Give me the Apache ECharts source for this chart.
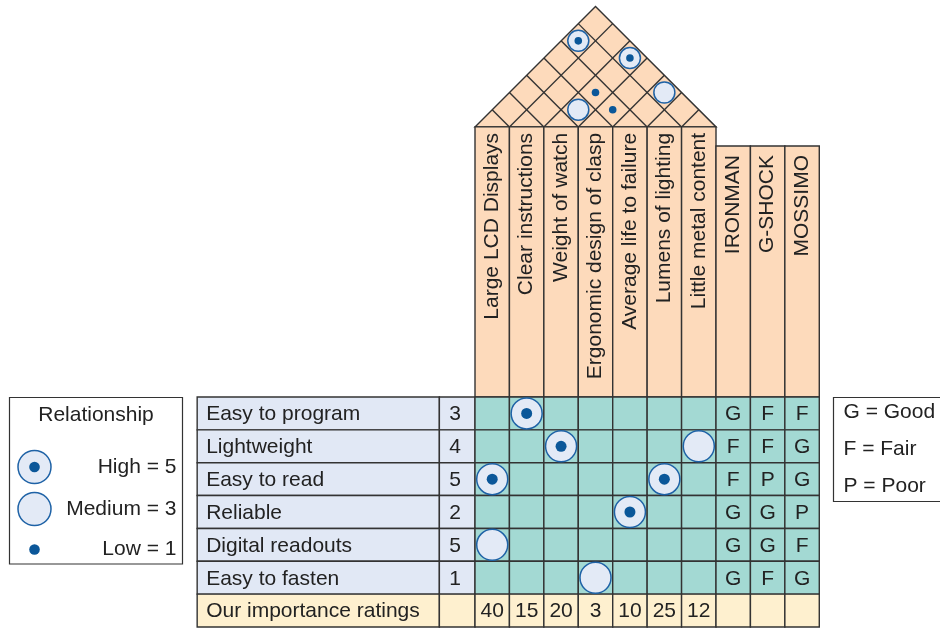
<!DOCTYPE html>
<html><head><meta charset="utf-8">
<script src="https://cdn.jsdelivr.net/npm/echarts@6.0.0/dist/echarts.min.js"></script>
<style>html,body{margin:0;padding:0;background:#fff}#c{width:940px;height:630px}</style>
</head><body><div id="c"></div>
<script>
// ---- data ----
const requirements = ['Easy to program','Lightweight','Easy to read','Reliable','Digital readouts','Easy to fasten'];
const importance = [3, 4, 5, 2, 5, 1];
const characteristics = ['Large LCD Displays','Clear instructions','Weight of watch','Ergonomic design of clasp','Average life to failure','Lumens of lighting','Little metal content'];
const ratingsLabel = 'Our importance ratings';
const ratings = [40, 15, 20, 3, 10, 25, 12];
const competitors = ['IRONMAN','G-SHOCK','MOSSIMO'];
const ironman = ['G','F','F','G','G','G'];
const gshock  = ['F','F','P','G','G','F'];
const mossimo = ['F','G','G','P','F','G'];
// [row (requirement), column (characteristic), strength]
const relationships = [[0,1,5],[1,2,5],[1,6,3],[2,0,5],[2,5,5],[3,4,5],[4,0,3],[5,3,3]];
// [characteristic i, characteristic j, strength] for the roof
const correlations = [[0,5,5],[2,6,5],[4,6,3],[2,4,1],[2,3,3],[3,4,1]];
const relLegend = [['High = 5',5],['Medium = 3',3],['Low = 1',1]];
const compLegend = ['G = Good','F = Fair','P = Poor'];

// ---- style / layout ----
const FONT = '21px "Liberation Sans", Arial, sans-serif';
const C = {peach:'#FDDABB', teal:'#A3D9D3', blue:'#E1E8F5', cream:'#FEF0CF', line:'#333333',
           ring:'#1E62A6', dot:'#0B5799', circle:'#E3EAF6', text:'#222222'};
const LW = 1.4;
const NR = requirements.length, NC = characteristics.length;
const LABEL_X0 = -8.07, IMP_X0 = -1.035;
const HEADER_TOP = -8.22, COMP_TOP = -7.64;
const compRatings = [ironman, gshock, mossimo];

const cells = [];
requirements.forEach((r,i)=>{
  cells.push({x0:LABEL_X0,x1:IMP_X0,row:i,fill:C.blue,text:r,align:'left'});
  cells.push({x0:IMP_X0,x1:0,row:i,fill:C.blue,text:String(importance[i]),align:'center',dx:-2});
  for(let c=0;c<NC;c++) cells.push({x0:c,x1:c+1,row:i,fill:C.teal,text:'',align:'center'});
  compRatings.forEach((arr,k)=>cells.push({x0:NC+k,x1:NC+k+1,row:i,fill:C.teal,text:arr[i],align:'center'}));
});
cells.push({x0:LABEL_X0,x1:IMP_X0,row:NR,fill:C.cream,text:ratingsLabel,align:'left'});
cells.push({x0:IMP_X0,x1:0,row:NR,fill:C.cream,text:'',align:'center'});
ratings.forEach((v,c)=>cells.push({x0:c,x1:c+1,row:NR,fill:C.cream,text:String(v),align:'center'}));
competitors.forEach((_,k)=>cells.push({x0:NC+k,x1:NC+k+1,row:NR,fill:C.cream,text:'',align:'center'}));

const headers = characteristics.map((t,i)=>({x0:i,top:HEADER_TOP,text:t}))
  .concat(competitors.map((t,k)=>({x0:NC+k,top:COMP_TOP,text:t})));

function symbolEls(cx, cy, r, dr, strength){
  const els = [];
  if(strength >= 3){
    els.push({type:'circle', shape:{cx:cx, cy:cy, r:r}, style:{fill:C.circle, stroke:C.ring, lineWidth:1.5}});
  }
  if(strength === 5 || strength === 1){
    els.push({type:'circle', shape:{cx:cx, cy:cy, r:dr}, style:{fill:C.dot}});
  }
  return els;
}

const chart = echarts.init(document.getElementById('c'), null, {renderer:'canvas'});
const option = {
  animation:false,
  grid:{left:475, top:397, width:241, height:230},
  xAxis:{type:'value', min:0, max:NC, show:false},
  yAxis:{type:'value', min:0, max:NR+1, inverse:true, show:false},
  series:[
    { // roof
      type:'custom', data:[[0]], clip:false,
      renderItem:function(params, api){
        const b = api.coord([0, HEADER_TOP]);
        const w = api.size([1,0])[0];
        const n = NC;
        const apex = [b[0]+n*w/2, b[1]-n*w/2];
        const els = [{type:'polygon', shape:{points:[[b[0],b[1]],apex,[b[0]+n*w,b[1]]]},
                      style:{fill:C.peach, stroke:C.line, lineWidth:LW}}];
        for(let k=1;k<n;k++){
          const x = b[0]+k*w;
          els.push({type:'line', shape:{x1:x,y1:b[1],x2:b[0]+k*w/2,y2:b[1]-k*w/2}, style:{stroke:C.line,lineWidth:LW}});
          els.push({type:'line', shape:{x1:x,y1:b[1],x2:b[0]+(k+n)*w/2,y2:b[1]-(n-k)*w/2}, style:{stroke:C.line,lineWidth:LW}});
        }
        return {type:'group', children:els};
      }
    },
    { // roof correlations
      type:'custom', data:correlations, clip:false,
      renderItem:function(params, api){
        const i = api.value(0), j = api.value(1), s = api.value(2);
        const b = api.coord([0, HEADER_TOP]);
        const w = api.size([1,0])[0];
        const cx = b[0] + (i+j+1)/2*w, cy = b[1] - (j-i)*w/2;
        return {type:'group', children:symbolEls(cx, cy, w*0.305, w*0.11, s)};
      }
    },
    { // header columns
      type:'custom', data:headers.map(h=>[h.x0, h.top]), clip:false,
      renderItem:function(params, api){
        const h = headers[params.dataIndex];
        const p0 = api.coord([h.x0, h.top]), p1 = api.coord([h.x0+1, 0]);
        const isComp = h.x0 >= NC;
        return {type:'group', children:[
          {type:'rect', shape:{x:p0[0], y:p0[1], width:p1[0]-p0[0], height:p1[1]-p0[1]},
           style:{fill:C.peach, stroke:C.line, lineWidth:LW}},
          {type:'text', x:(p0[0]+p1[0])/2, y:p0[1]+(isComp?9:6), rotation:Math.PI/2,
           style:{text:h.text, font:FONT, fill:C.text, align:'right', verticalAlign:'middle'}}
        ]};
      }
    },
    { // table cells
      type:'custom', data:cells.map(c=>[c.x0, c.row, c.x1]), clip:false,
      renderItem:function(params, api){
        const c = cells[params.dataIndex];
        const p0 = api.coord([c.x0, c.row]), p1 = api.coord([c.x1, c.row+1]);
        const els = [{type:'rect', shape:{x:p0[0], y:p0[1], width:p1[0]-p0[0], height:p1[1]-p0[1]},
                      style:{fill:c.fill, stroke:C.line, lineWidth:LW}}];
        if(c.text){
          els.push({type:'text', x: c.align==='left' ? p0[0]+9 : (p0[0]+p1[0])/2 + (c.dx||0), y:(p0[1]+p1[1])/2+1,
            style:{text:c.text, font:FONT, fill:C.text, align:c.align, verticalAlign:'middle'}});
        }
        return {type:'group', children:els};
      }
    },
    { // relationship symbols
      type:'custom', data:relationships.map(r=>[r[1]+0.5, r[0]+0.5, r[2]]), clip:false, z:5,
      renderItem:function(params, api){
        const p = api.coord([api.value(0), api.value(1)]);
        const h = api.size([0,1])[1];
        return {type:'group', children:symbolEls(p[0], p[1], h*0.472, 5.5, api.value(2))};
      }
    }
  ],
  graphic:[
    {type:'rect', shape:{x:9.5, y:397.5, width:173, height:166.5}, style:{fill:'#fff', stroke:C.line, lineWidth:1.2}},
    {type:'text', x:96, y:415, style:{text:'Relationship', font:FONT, fill:C.text, align:'center', verticalAlign:'middle'}},
  ].concat(relLegend.flatMap((it,k)=>{
    const y = [467, 509, 549.5][k];
    const els = [{type:'text', x:176.5, y:y, style:{text:it[0], font:FONT, fill:C.text, align:'right', verticalAlign:'middle'}}];
    if(it[1] >= 3) els.push({type:'circle', shape:{cx:34.5, cy:y, r:16.5}, style:{fill:C.circle, stroke:C.ring, lineWidth:1.5}});
    if(it[1] !== 3) els.push({type:'circle', shape:{cx:34.5, cy:y, r:5.3}, style:{fill:C.dot}});
    return els;
  })).concat([
    {type:'rect', shape:{x:833.5, y:397.5, width:120, height:104}, style:{fill:'#fff', stroke:C.line, lineWidth:1.2}}
  ]).concat(compLegend.map((t,k)=>({type:'text', x:843.5, y:[412.5,449.5,486][k],
    style:{text:t, font:FONT, fill:C.text, align:'left', verticalAlign:'middle'}})))
};
chart.setOption(option);
</script>
</body></html>
